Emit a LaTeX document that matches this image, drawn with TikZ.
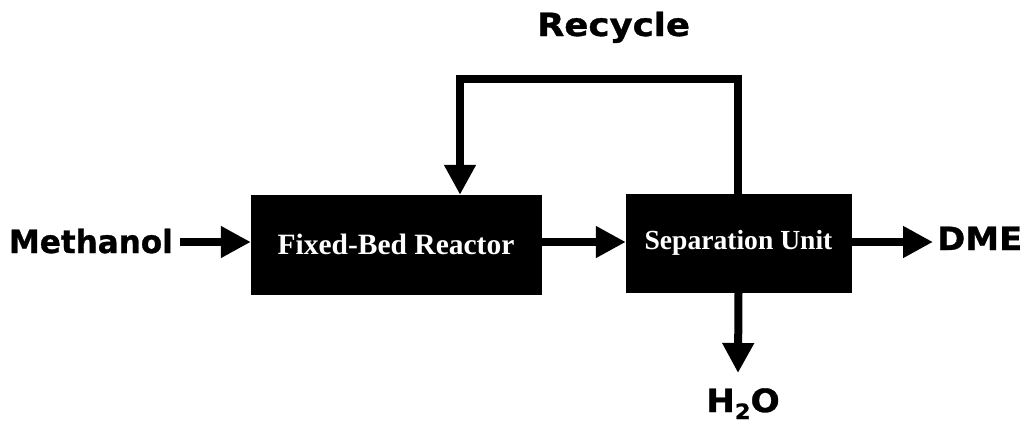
\documentclass[tikz,border=0pt]{standalone}
\usepackage{fontspec}
\usetikzlibrary{arrows.meta}
\newfontfamily\labelfont{DejaVu Sans Bold}[FakeBold=1]
\newfontfamily\unitfont{Liberation Serif}
\tikzset{
  unitbox/.style={draw=black, fill=black, text=white, inner sep=0pt},
  stream/.style={font=\labelfont\fontsize{32}{34}\selectfont, inner sep=0pt},
  flow/.style={line width=8pt, -{Triangle[width=30pt,length=30pt]}},
}
\begin{document}
\begin{tikzpicture}[x=1pt,y=-1pt]
  \useasboundingbox (0,0) rectangle (1028,424);
  % process units
  \node[unitbox, minimum width=290pt, minimum height=99pt,
        font=\unitfont\bfseries\fontsize{29.5}{31}\selectfont] (reactor) at (396,244.5) {Fixed-Bed Reactor};
  \node[unitbox, minimum width=225pt, minimum height=98pt,
        font=\unitfont\bfseries\fontsize{27.6}{29}\selectfont] (sep) at (738.5,243) {Separation Unit};
  % stream labels
  \node[stream, anchor=base east] (meoh) at (173,253) {\scalebox{0.97}[1]{Methanol}};
  \node[stream, anchor=base west] (dme) at (937,250) {\scalebox{1.06}[1]{DME}};
  \node[stream, anchor=base] (rec) at (613.5,36) {\scalebox{1.11}[1]{Recycle}};
  \node[stream, anchor=base] (water) at (743,412)
    {\scalebox{1.07}[1]{H\raisebox{-7pt}{\fontsize{21}{21}\selectfont 2}O}};
  \coordinate (feedend) at (180,242);
  \coordinate (dmeend) at (933,242);
  \coordinate (waterend) at (738,373);
  \coordinate (topL) at (460,79);
  \coordinate (topR) at (738,79);
  % main line
  \draw[flow] (feedend) -- (reactor.west |- feedend);
  \draw[flow] (reactor.east |- feedend) -- (sep.west |- feedend);
  \draw[flow] (sep.east |- feedend) -- (dmeend);
  \draw[flow] (sep.south) -- (waterend);
  % recycle loop
  \draw[flow] (sep.north -| topR) -- (topR) -- (topL) -- (reactor.north -| topL);
\end{tikzpicture}
\end{document}
